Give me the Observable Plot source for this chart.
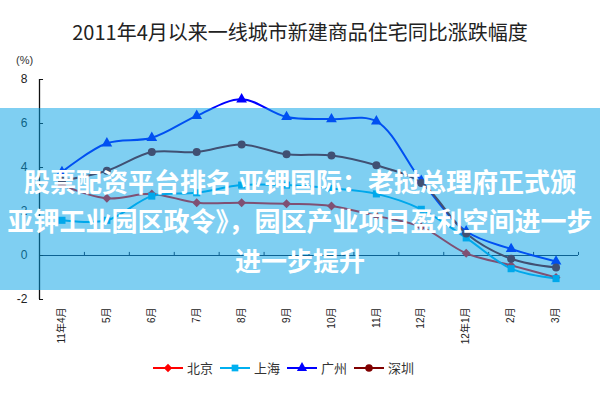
<!DOCTYPE html>
<html><head><meta charset="utf-8">
<script src="https://cdn.jsdelivr.net/npm/d3@7"></script>
<script src="https://cdn.jsdelivr.net/npm/@observablehq/plot@0.6"></script>
<style>
body{margin:0;background:#fff;}
#wrap{position:relative;width:600px;height:400px;overflow:hidden;font-family:"Noto Sans CJK SC",sans-serif;}
#title{position:absolute;left:0;top:19px;width:600px;text-align:center;font-size:20px;color:#222;line-height:26px;}
#unit{position:absolute;left:16px;top:54px;font-size:11px;color:#333;font-family:"Liberation Sans",sans-serif;}
#chart{position:absolute;left:0;top:52px;}
#legend{position:absolute;left:153px;top:358px;display:flex;align-items:center;font-size:13px;color:#333;line-height:20px;}
#legend .item{display:flex;align-items:center;margin-right:7px;}
#legend svg{margin-right:4px;}
#overlay{position:absolute;left:0;top:108px;width:600px;height:182px;background:rgba(0,160,230,0.5);}
.ol{position:absolute;left:0;width:600px;text-align:center;color:#fff;font-weight:bold;font-size:26px;white-space:nowrap;line-height:30px;}
</style></head>
<body>
<div id="wrap">
  <div id="title">2011年4月以来一线城市新建商品住宅同比涨跌幅度</div>
  <div id="unit">(%)</div>
  <div id="chart"></div>
  <div id="legend"></div>
  <div id="overlay">
    <div class="ol" style="top:58px">股票配资平台排名 亚钾国际：老挝总理府正式颁</div>
    <div class="ol" style="top:97px">亚钾工业园区政令》，园区产业项目盈利空间进一步</div>
    <div class="ol" style="top:137px">进一步提升</div>
  </div>
</div>
<script>
const labels = ["11年4月","5月","6月","7月","8月","9月","10月","11月","12月","12年1月","2月","3月"];
const beijing   = [3.2, 2.6, 2.8, 2.4, 2.4, 2.35, 2.25, 1.8, 1.3, 0.1, -0.45, -1.0];
const shanghai  = [1.6, 1.6, 2.7, 2.85, 3.2, 3.2, 3.05, 2.8, 2.1, 0.8, -0.6, -1.05];
const guangzhou = [3.8, 5.1, 5.35, 6.35, 7.1, 6.3, 6.2, 6.1, 3.4, 1.1, 0.3, -0.27];
const shenzhen  = [3.4, 3.85, 4.7, 4.7, 5.05, 4.6, 4.55, 4.1, 3.3, 1.0, -0.15, -0.55];
const seriesNames = ["北京","上海","广州","深圳"];
const colors = ["#ff0000","#00b0f0","#0000ff","#800000"];
const symbols = ["diamond2","square","triangle","circle"];
const yTicks = [-2,0,2,4,6,8];

const values = [beijing, shanghai, guangzhou, shenzhen];
const data = seriesNames.flatMap((s,k)=> values[k].map((v,i)=>({series:s, i, v})));
const bounds = d3.range(labels.length + 1).map(k => k - 0.5);

const chart = Plot.plot({
  width:600, height:300,
  marginLeft:39, marginRight:22, marginTop:27, marginBottom:53,
  style:{fontFamily:"'Liberation Sans','Noto Sans CJK SC',sans-serif", background:"transparent", color:"#222"},
  x:{type:"linear", domain:[-0.5, labels.length - 0.5], label:null},
  y:{domain:[-2,8], label:null},
  color:{domain:seriesNames, range:colors},
  symbol:{domain:seriesNames, range:symbols},
  marks:[
    Plot.ruleY([0], {stroke:"#1a2440", strokeWidth:1.2}),
    Plot.ruleX(bounds, {y1:0, y2:0.14, stroke:"#1a2440"}),
    Plot.ruleX([-0.5], {y1:-2, y2:8, stroke:"#111", strokeWidth:1.3}),
    Plot.ruleY(yTicks, {x1:-0.5, x2:-0.41, stroke:"#111"}),
    Plot.axisY({ticks:yTicks, tickSize:0, tickPadding:12, tickFormat:d=>String(d), fontSize:12, label:null}),
    Plot.axisX({ticks:d3.range(labels.length), tickFormat:i=>labels[i], tickRotate:-90, tickSize:0, tickPadding:8, fontSize:10, label:null}),
    Plot.line(data, {x:"i", y:"v", z:"series", stroke:"series", strokeWidth:2, curve:"catmull-rom"}),
    Plot.dot(data, {x:"i", y:"v", fill:"series", symbol:"series", r:4, stroke:null})
  ]
});
document.getElementById("chart").appendChild(chart);

const legend = document.getElementById("legend");
const symTypes = {diamond2:d3.symbolDiamond2, square:d3.symbolSquare, triangle:d3.symbolTriangle, circle:d3.symbolCircle};
seriesNames.forEach((s,k)=>{
  const item = document.createElement("div");
  item.className = "item";
  const svg = d3.create("svg").attr("width",30).attr("height",12);
  svg.append("line").attr("x1",0).attr("x2",30).attr("y1",6).attr("y2",6).attr("stroke",colors[k]).attr("stroke-width",2);
  svg.append("path").attr("transform","translate(15,6)").attr("d", d3.symbol(symTypes[symbols[k]], 45)()).attr("fill",colors[k]);
  item.appendChild(svg.node());
  const t = document.createElement("span");
  t.textContent = s;
  item.appendChild(t);
  legend.appendChild(item);
});
</script>
</body></html>
